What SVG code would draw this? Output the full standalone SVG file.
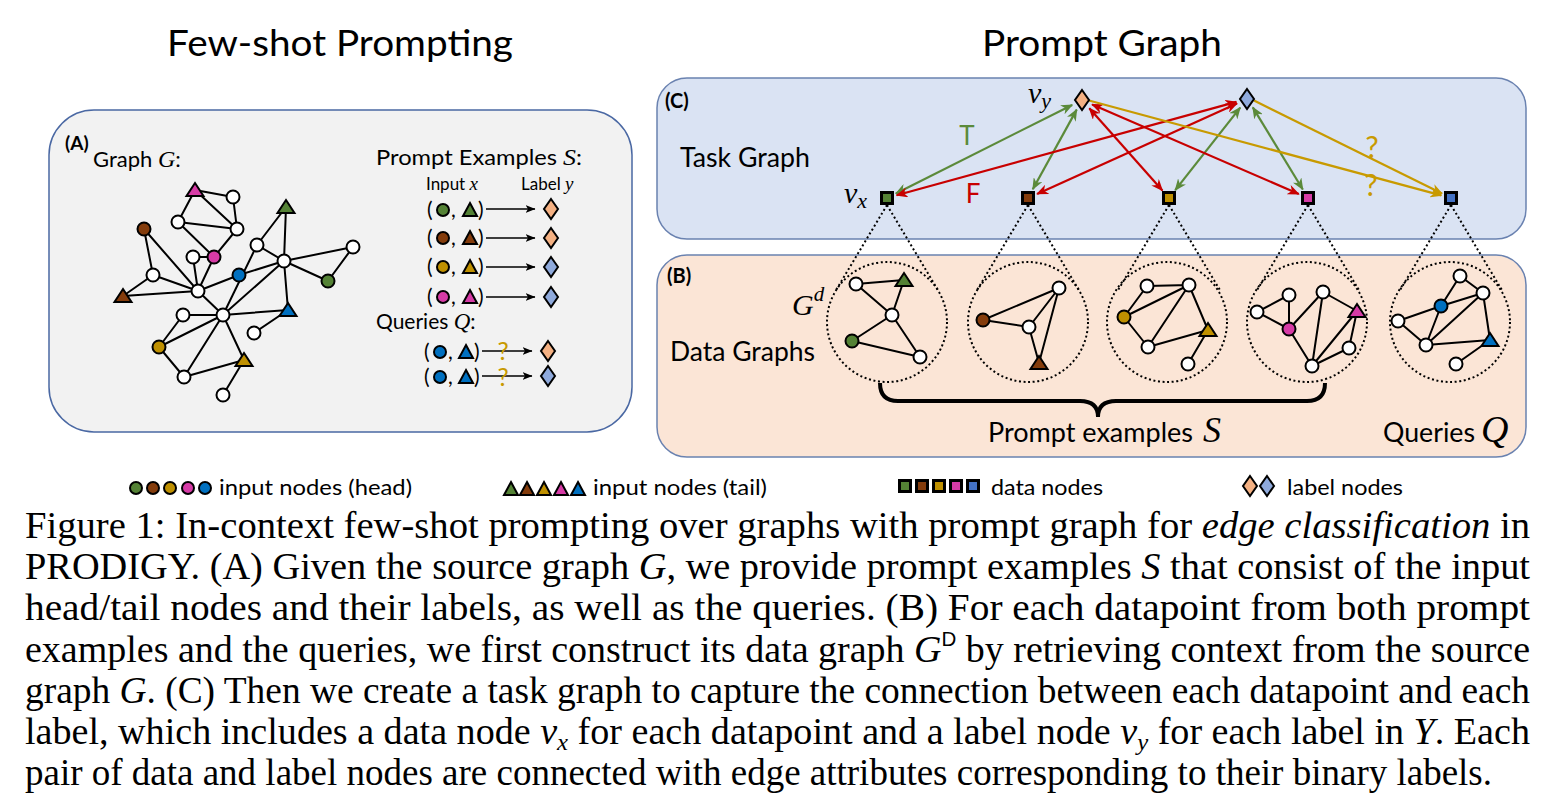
<svg xmlns="http://www.w3.org/2000/svg" xmlns:xlink="http://www.w3.org/1999/xlink" width="1562" height="811" viewBox="0 0 1562 811">
<style>
.lab{font-family:Lato,"Open Sans","Liberation Sans",sans-serif;fill:#000}
.bold{font-weight:bold}
.m{font-family:"Liberation Serif",serif;font-style:italic}
.cap{font-family:"Liberation Serif","Times New Roman",serif;font-size:37px;fill:#000}
.e{stroke:#000;stroke-width:2;fill:none;stroke-linecap:round}
.w{fill:#fff;stroke:#000;stroke-width:2}
.cg{fill:#548235;stroke:#000;stroke-width:2}
.cb{fill:#843c0c;stroke:#000;stroke-width:2}
.cy{fill:#bf9000;stroke:#000;stroke-width:2}
.cp{fill:#d63ba6;stroke:#000;stroke-width:2}
.cu{fill:#0070c0;stroke:#000;stroke-width:2}
.sq{stroke:#000;stroke-width:3}
.dor{fill:#f4b183;stroke:#000;stroke-width:2}
.dbl{fill:#8faadc;stroke:#000;stroke-width:2}
.dot{stroke:#000;stroke-width:2;fill:none;stroke-dasharray:2 2.6}
.tg{stroke:#5b8a3a;stroke-width:2.2;fill:none}
.tr{stroke:#c80000;stroke-width:2.2;fill:none}
.ty{stroke:#c89a00;stroke-width:2.2;fill:none}
.q{fill:#c89a00;font-family:Lato,"Open Sans",sans-serif}
</style>
<defs>
<path id="tri" d="M0,-7 L8.5,6 L-8.5,6 Z"/>
<path id="tris" d="M0,-7 L7,6 L-7,6 Z"/>
<path id="dia" d="M0,-10 L7,0 L0,10 L-7,0 Z"/>
<marker id="ag" viewBox="0 0 12 10" refX="11" refY="5" markerWidth="12" markerHeight="10" markerUnits="userSpaceOnUse" orient="auto-start-reverse"><path d="M0,0 L12,5 L0,10 L3.5,5 Z" fill="#5b8a3a"/></marker>
<marker id="ar" viewBox="0 0 12 10" refX="11" refY="5" markerWidth="12" markerHeight="10" markerUnits="userSpaceOnUse" orient="auto-start-reverse"><path d="M0,0 L12,5 L0,10 L3.5,5 Z" fill="#c80000"/></marker>
<marker id="ay" viewBox="0 0 12 10" refX="11" refY="5" markerWidth="12" markerHeight="10" markerUnits="userSpaceOnUse" orient="auto-start-reverse"><path d="M0,0 L12,5 L0,10 L3.5,5 Z" fill="#c89a00"/></marker>
<marker id="ak" viewBox="0 0 10 8" refX="9.5" refY="4" markerWidth="10" markerHeight="8" markerUnits="userSpaceOnUse" orient="auto"><path d="M0,0 L10,4 L0,8 L2.5,4 Z" fill="#000"/></marker>
</defs>
<rect width="1562" height="811" fill="#fff"/>

<!-- Titles -->
<text class="lab" x="167" y="56" font-size="37" textLength="346" lengthAdjust="spacingAndGlyphs">Few-shot Prompting</text>
<text class="lab" x="982" y="56" font-size="37" textLength="240" lengthAdjust="spacingAndGlyphs">Prompt Graph</text>

<!-- Panel A -->
<g id="panel-A">
<rect x="49" y="110" width="583" height="322" rx="45" fill="#f2f2f2" stroke="#4a68a3" stroke-width="1.5"/>
<text class="lab bold" x="65" y="150" font-size="19">(A)</text>
<text class="lab" x="93" y="167" font-size="22">Graph <tspan class="m" font-size="24">G</tspan>:</text>
<text class="lab" x="376" y="165" font-size="21" textLength="206" lengthAdjust="spacingAndGlyphs">Prompt Examples <tspan class="m" font-size="23">S</tspan>:</text>
<text class="lab" x="426" y="190" font-size="17">Input <tspan class="m" font-size="19">x</tspan></text>
<text class="lab" x="521" y="190" font-size="17">Label <tspan class="m" font-size="19">y</tspan></text>
<text class="lab" x="376" y="329" font-size="21">Queries <tspan class="m" font-size="23">Q</tspan>:</text>
</g>

<!-- Left graph connectors -->
<g id="graph-G-edges">
<path class="e" d="M195,190L233,197 M195,190L178,222 M195,190L237,229 M233,197L237,229 M178,222L237,229 M178,222L214,257 M237,229L214,257 M193,257L214,257 M193,257L198,291 M214,257L198,291 M144,229L153,275 M144,229L198,291 M153,275L123,296 M153,275L198,291 M123,296L198,291 M198,291L239,275 M198,291L223,315 M239,275L284,261 M257,245L223,315 M257,245L286,207 M257,245L284,261 M284,261L286,207 M284,261L353,247 M284,261L328,281 M353,247L328,281 M284,261L288,310 M223,315L284,261 M223,315L288,310 M223,315L183,315 M223,315L159,347 M223,315L184,377 M223,315L244,360 M183,315L159,347 M159,347L184,377 M184,377L244,360 M244,360L223,395 M288,310L254,333"/>
</g>
<g id="graph-G-nodes">
<g id="gA-pT"><use href="#tri" x="195" y="190" class="cp"/></g>
<g id="gA-a"><circle class="w" cx="233" cy="197" r="6.5"/></g>
<g id="gA-gT"><use href="#tri" x="286" y="207" class="cg"/></g>
<g id="gA-b"><circle class="w" cx="178" cy="222" r="6.5"/></g>
<g id="gA-c"><circle class="w" cx="237" cy="229" r="6.5"/></g>
<g id="gA-brC"><circle class="cb" cx="144" cy="229" r="6.5"/></g>
<g id="gA-d"><circle class="w" cx="257" cy="245" r="6.5"/></g>
<g id="gA-e"><circle class="w" cx="353" cy="247" r="6.5"/></g>
<g id="gA-f"><circle class="w" cx="193" cy="257" r="6.5"/></g>
<g id="gA-pC"><circle class="cp" cx="214" cy="257" r="6.5"/></g>
<g id="gA-g"><circle class="w" cx="284" cy="261" r="6.5"/></g>
<g id="gA-blC"><circle class="cu" cx="239" cy="275" r="6.5"/></g>
<g id="gA-h"><circle class="w" cx="153" cy="275" r="6.5"/></g>
<g id="gA-grC"><circle class="cg" cx="328" cy="281" r="6.5"/></g>
<g id="gA-i"><circle class="w" cx="198" cy="291" r="6.5"/></g>
<g id="gA-brT"><use href="#tri" x="123" y="296" class="cb"/></g>
<g id="gA-j"><circle class="w" cx="223" cy="315" r="6.5"/></g>
<g id="gA-k"><circle class="w" cx="183" cy="315" r="6.5"/></g>
<g id="gA-blT"><use href="#tri" x="288" y="310" class="cu"/></g>
<g id="gA-l"><circle class="w" cx="254" cy="333" r="6.5"/></g>
<g id="gA-yC"><circle class="cy" cx="159" cy="347" r="6.5"/></g>
<g id="gA-yT"><use href="#tri" x="244" y="360" class="cy"/></g>
<g id="gA-m"><circle class="w" cx="184" cy="377" r="6.5"/></g>
<g id="gA-n"><circle class="w" cx="223" cy="395" r="6.5"/></g>
</g>

<!-- Prompt example rows -->
<g id="rows" class="lab" font-size="21">
<g id="row1"><text x="427" y="217">(</text><circle class="cg" cx="443" cy="210" r="6"/><text x="451" y="217">,</text><use href="#tris" x="470" y="210" class="cg"/><text x="478" y="217">)</text><line x1="486" y1="209" x2="535" y2="209" stroke="#000" stroke-width="1.6" marker-end="url(#ak)"/><use href="#dia" x="551" y="209" class="dor"/></g>
<g id="row2"><text x="427" y="245">(</text><circle class="cb" cx="443" cy="238" r="6"/><text x="451" y="245">,</text><use href="#tris" x="470" y="238" class="cb"/><text x="478" y="245">)</text><line x1="486" y1="238" x2="535" y2="238" stroke="#000" stroke-width="1.6" marker-end="url(#ak)"/><use href="#dia" x="551" y="238" class="dor"/></g>
<g id="row3"><text x="427" y="274">(</text><circle class="cy" cx="443" cy="267" r="6"/><text x="451" y="274">,</text><use href="#tris" x="470" y="267" class="cy"/><text x="478" y="274">)</text><line x1="486" y1="267" x2="535" y2="267" stroke="#000" stroke-width="1.6" marker-end="url(#ak)"/><use href="#dia" x="551" y="267" class="dbl"/></g>
<g id="row4"><text x="427" y="304">(</text><circle class="cp" cx="443" cy="297" r="6"/><text x="451" y="304">,</text><use href="#tris" x="470" y="297" class="cp"/><text x="478" y="304">)</text><line x1="486" y1="297" x2="535" y2="297" stroke="#000" stroke-width="1.6" marker-end="url(#ak)"/><use href="#dia" x="551" y="297" class="dbl"/></g>
<g id="query1"><text x="424" y="359">(</text><circle class="cu" cx="440" cy="352" r="6"/><text x="448" y="359">,</text><use href="#tris" x="466" y="352" class="cu"/><text x="474" y="359">)</text><line x1="482" y1="351" x2="532" y2="351" stroke="#000" stroke-width="1.6" marker-end="url(#ak)"/><use href="#dia" x="548" y="351" class="dor"/><text class="q" x="503" y="360" font-size="25" text-anchor="middle">?</text></g>
<g id="query2"><text x="424" y="384">(</text><circle class="cu" cx="440" cy="377" r="6"/><text x="448" y="384">,</text><use href="#tris" x="466" y="377" class="cu"/><text x="474" y="384">)</text><line x1="482" y1="376" x2="532" y2="376" stroke="#000" stroke-width="1.6" marker-end="url(#ak)"/><use href="#dia" x="548" y="376" class="dbl"/><text class="q" x="503" y="386" font-size="25" text-anchor="middle">?</text></g>
</g>

<!-- Panel C -->
<g id="panel-C">
<rect x="657" y="78" width="869" height="161" rx="30" fill="#dae3f3" stroke="#6a82b0" stroke-width="1.5"/>
<text class="lab bold" x="665" y="108" font-size="20">(C)</text>
<text class="lab" x="680" y="167" font-size="26" textLength="130" lengthAdjust="spacingAndGlyphs">Task Graph</text>
</g>
<!-- Panel B -->
<g id="panel-B">
<rect x="657" y="255" width="869" height="202" rx="30" fill="#fbe5d6" stroke="#6a82b0" stroke-width="1.5"/>
<text class="lab bold" x="667" y="283" font-size="20">(B)</text>
<text class="lab" x="670" y="361" font-size="26" textLength="145" lengthAdjust="spacingAndGlyphs">Data Graphs</text>
<text class="m" x="792" y="315" font-size="30">G<tspan font-size="21" dy="-14">d</tspan></text>
<text class="lab" x="988" y="442" font-size="26" textLength="205" lengthAdjust="spacingAndGlyphs">Prompt examples</text>
<text class="m" x="1203" y="442" font-size="36">S</text>
<text class="lab" x="1383" y="442" font-size="26" textLength="92" lengthAdjust="spacingAndGlyphs">Queries</text>
<text class="m" x="1481" y="442" font-size="38">Q</text>
</g>

<!-- Task graph connectors -->
<g id="task-edges">
<line class="tg" x1="1072.2" y1="104.9" x2="895.9" y2="193.5" marker-start="url(#ag)" marker-end="url(#ag)"/>
<line class="tg" x1="1076.7" y1="109.6" x2="1032.8" y2="189.2" marker-start="url(#ag)" marker-end="url(#ag)"/>
<line class="tg" x1="1240.2" y1="107.6" x2="1175.2" y2="190.1" marker-start="url(#ag)" marker-end="url(#ag)"/>
<line class="tg" x1="1252.8" y1="107.4" x2="1302.8" y2="189.5" marker-start="url(#ag)" marker-end="url(#ag)"/>
<line class="tr" x1="1236.4" y1="101.9" x2="896.6" y2="195.3" marker-start="url(#ar)" marker-end="url(#ar)"/>
<line class="tr" x1="1237" y1="103.5" x2="1037.1" y2="193.9" marker-start="url(#ar)" marker-end="url(#ar)"/>
<line class="tr" x1="1089.3" y1="108.2" x2="1162.4" y2="190.5" marker-start="url(#ar)" marker-end="url(#ar)"/>
<line class="tr" x1="1092.1" y1="104.4" x2="1298.8" y2="194" marker-start="url(#ar)" marker-end="url(#ar)"/>
<line class="ty" x1="1089" y1="100.5" x2="1441.3" y2="195.4" marker-end="url(#ay)"/>
<line class="ty" x1="1254" y1="100.5" x2="1442" y2="193.6" marker-end="url(#ay)"/>
<text class="lab" x="967" y="145" font-size="26" text-anchor="middle" style="fill:#5b8a3a">T</text>
<text class="lab" x="973" y="203" font-size="26" text-anchor="middle" style="fill:#c80000">F</text>
<text class="q" x="1372" y="158" font-size="30" text-anchor="middle">?</text>
<text class="q" x="1371" y="196" font-size="30" text-anchor="middle">?</text>
</g>
<!-- zoom cones -->
<g id="cones">
<path class="dot" d="M887,205L835.5,291 M887,205L938.5,291 M1028,205L976.5,291 M1028,205L1079.5,291 M1169,205L1117.5,291 M1169,205L1220.5,291 M1308,205L1256.5,291 M1308,205L1359.5,291 M1451,205L1399.5,291 M1451,205L1502.5,291"/>
</g>
<!-- Task graph nodes -->
<g id="vy1"><use href="#dia" x="1082" y="100" class="dor"/></g>
<g id="vy2"><use href="#dia" x="1247" y="99" class="dbl"/></g>
<g id="vx1"><rect class="sq" x="881.5" y="192.5" width="11" height="11" fill="#548235"/></g>
<g id="vx2"><rect class="sq" x="1022.5" y="192.5" width="11" height="11" fill="#843c0c"/></g>
<g id="vx3"><rect class="sq" x="1163.5" y="192.5" width="11" height="11" fill="#bf9000"/></g>
<g id="vx4"><rect class="sq" x="1302.5" y="192.5" width="11" height="11" fill="#d63ba6"/></g>
<g id="vx5"><rect class="sq" x="1445.5" y="192.5" width="11" height="11" fill="#4472c4"/></g>
<text class="m" x="1028" y="103" font-size="30">v<tspan font-size="22" dy="5">y</tspan></text>
<text class="m" x="844" y="203" font-size="30">v<tspan font-size="22" dy="5">x</tspan></text>

<!-- Data graphs -->
<g id="dg1">
<circle class="dot" cx="887" cy="322" r="60"/>
<path class="e" d="M856,284L904,280 M856,284L892,315 M904,280L892,315 M892,315L852,341 M892,315L920,357 M852,341L920,357"/>
<circle class="w" cx="856" cy="284" r="6.5"/><use href="#tri" x="904" y="280" class="cg"/><circle class="w" cx="892" cy="315" r="6.5"/><circle class="cg" cx="852" cy="341" r="6.5"/><circle class="w" cx="920" cy="357" r="6.5"/>
</g>
<g id="dg2">
<circle class="dot" cx="1028" cy="322" r="60"/>
<path class="e" d="M983,320L1059,288 M983,320L1029,327 M1029,327L1059,288 M1029,327L1039,363 M1059,288L1039,363"/>
<circle class="w" cx="1059" cy="288" r="6.5"/><circle class="cb" cx="983" cy="320" r="6.5"/><circle class="w" cx="1029" cy="327" r="6.5"/><use href="#tri" x="1039" y="363" class="cb"/>
</g>
<g id="dg3">
<circle class="dot" cx="1167" cy="322" r="60"/>
<path class="e" d="M1147,286L1189,285 M1124,317L1147,286 M1124,317L1189,285 M1124,317L1148,347 M1148,347L1189,285 M1189,285L1208,330 M1148,347L1208,330 M1208,330L1188,364"/>
<circle class="w" cx="1147" cy="286" r="6.5"/><circle class="w" cx="1189" cy="285" r="6.5"/><circle class="cy" cx="1124" cy="317" r="6.5"/><use href="#tri" x="1208" y="330" class="cy"/><circle class="w" cx="1148" cy="347" r="6.5"/><circle class="w" cx="1188" cy="364" r="6.5"/>
</g>
<g id="dg4">
<circle class="dot" cx="1307" cy="322" r="60"/>
<path class="e" d="M1257,312L1289,295 M1289,295L1289,329 M1257,312L1289,329 M1289,329L1323,292 M1323,292L1357,311 M1323,292L1312,366 M1289,329L1312,366 M1357,311L1312,366 M1357,311L1349,348 M1349,348L1312,366"/>
<circle class="w" cx="1289" cy="295" r="6.5"/><circle class="w" cx="1323" cy="292" r="6.5"/><use href="#tri" x="1357" y="311" class="cp"/><circle class="w" cx="1257" cy="312" r="6.5"/><circle class="cp" cx="1289" cy="329" r="6.5"/><circle class="w" cx="1349" cy="348" r="6.5"/><circle class="w" cx="1312" cy="366" r="6.5"/>
</g>
<g id="dg5">
<circle class="dot" cx="1450" cy="322" r="60"/>
<path class="e" d="M1460,276L1441,306 M1460,276L1483,293 M1441,306L1483,293 M1398,321L1441,306 M1398,321L1426,345 M1441,306L1426,345 M1426,345L1483,293 M1483,293L1490,340 M1426,345L1490,340 M1490,340L1456,364"/>
<circle class="w" cx="1460" cy="276" r="6.5"/><circle class="cu" cx="1441" cy="306" r="6.5"/><circle class="w" cx="1483" cy="293" r="6.5"/><circle class="w" cx="1398" cy="321" r="6.5"/><circle class="w" cx="1426" cy="345" r="6.5"/><use href="#tri" x="1490" y="340" class="cu"/><circle class="w" cx="1456" cy="364" r="6.5"/>
</g>
<!-- brace -->
<path id="brace" d="M880,383 Q880,401 898,401 L1080,401 Q1098,401 1098,417 Q1098,401 1116,401 L1307,401 Q1325,401 1325,383" fill="none" stroke="#000" stroke-width="4"/>

<!-- Legend -->
<g id="legend">
<circle class="cg" cx="136" cy="488" r="6"/><circle class="cb" cx="153" cy="488" r="6"/><circle class="cy" cx="170" cy="488" r="6"/><circle class="cp" cx="188" cy="488" r="6"/><circle class="cu" cx="205" cy="488" r="6"/>
<text class="lab" x="219" y="495" font-size="21" textLength="193" lengthAdjust="spacingAndGlyphs">input nodes (head)</text>
<use href="#tris" x="511" y="489" class="cg"/><use href="#tris" x="527" y="489" class="cb"/><use href="#tris" x="544" y="489" class="cy"/><use href="#tris" x="561" y="489" class="cp"/><use href="#tris" x="578" y="489" class="cu"/>
<text class="lab" x="593" y="495" font-size="21" textLength="174" lengthAdjust="spacingAndGlyphs">input nodes (tail)</text>
<rect class="sq" x="899.5" y="480.5" width="11" height="11" fill="#548235"/><rect class="sq" x="916.5" y="480.5" width="11" height="11" fill="#843c0c"/><rect class="sq" x="933.5" y="480.5" width="11" height="11" fill="#bf9000"/><rect class="sq" x="950.5" y="480.5" width="11" height="11" fill="#d63ba6"/><rect class="sq" x="967.5" y="480.5" width="11" height="11" fill="#4472c4"/>
<text class="lab" x="991" y="495" font-size="21" textLength="112" lengthAdjust="spacingAndGlyphs">data nodes</text>
<use href="#dia" x="1250" y="486" class="dor"/><use href="#dia" x="1267" y="486" class="dbl"/>
<text class="lab" x="1287" y="495" font-size="21" textLength="116" lengthAdjust="spacingAndGlyphs">label nodes</text>
</g>

<!-- Caption -->
<g id="caption">
<text class="cap" x="25" y="538" textLength="1505" lengthAdjust="spacingAndGlyphs">Figure 1: In-context few-shot prompting over graphs with prompt graph for <tspan font-style="italic">edge classification</tspan> in</text>
<text class="cap" x="25" y="579" textLength="1505" lengthAdjust="spacingAndGlyphs">PRODIGY. (A) Given the source graph <tspan font-style="italic">G</tspan>, we provide prompt examples <tspan font-style="italic">S</tspan> that consist of the input</text>
<text class="cap" x="25" y="620" textLength="1505" lengthAdjust="spacingAndGlyphs">head/tail nodes and their labels, as well as the queries. (B) For each datapoint from both prompt</text>
<text class="cap" x="25" y="662" textLength="1505" lengthAdjust="spacingAndGlyphs">examples and the queries, we first construct its data graph <tspan font-style="italic">G</tspan><tspan font-family="Liberation Sans,sans-serif" font-size="20" dy="-16">D</tspan><tspan dy="16"> by retrieving context from the source</tspan></text>
<text class="cap" x="25" y="703" textLength="1505" lengthAdjust="spacingAndGlyphs">graph <tspan font-style="italic">G</tspan>. (C) Then we create a task graph to capture the connection between each datapoint and each</text>
<text class="cap" x="25" y="744" textLength="1505" lengthAdjust="spacingAndGlyphs">label, which includes a data node <tspan font-style="italic">v</tspan><tspan font-style="italic" font-size="24" dy="6">x</tspan><tspan dy="-6"> for each datapoint and a label node </tspan><tspan font-style="italic">v</tspan><tspan font-style="italic" font-size="24" dy="6">y</tspan><tspan dy="-6"> for each label in </tspan><tspan font-style="italic">Y</tspan>. Each</text>
<text class="cap" x="25" y="785" textLength="1467" lengthAdjust="spacingAndGlyphs">pair of data and label nodes are connected with edge attributes corresponding to their binary labels.</text>
</g>
</svg>
